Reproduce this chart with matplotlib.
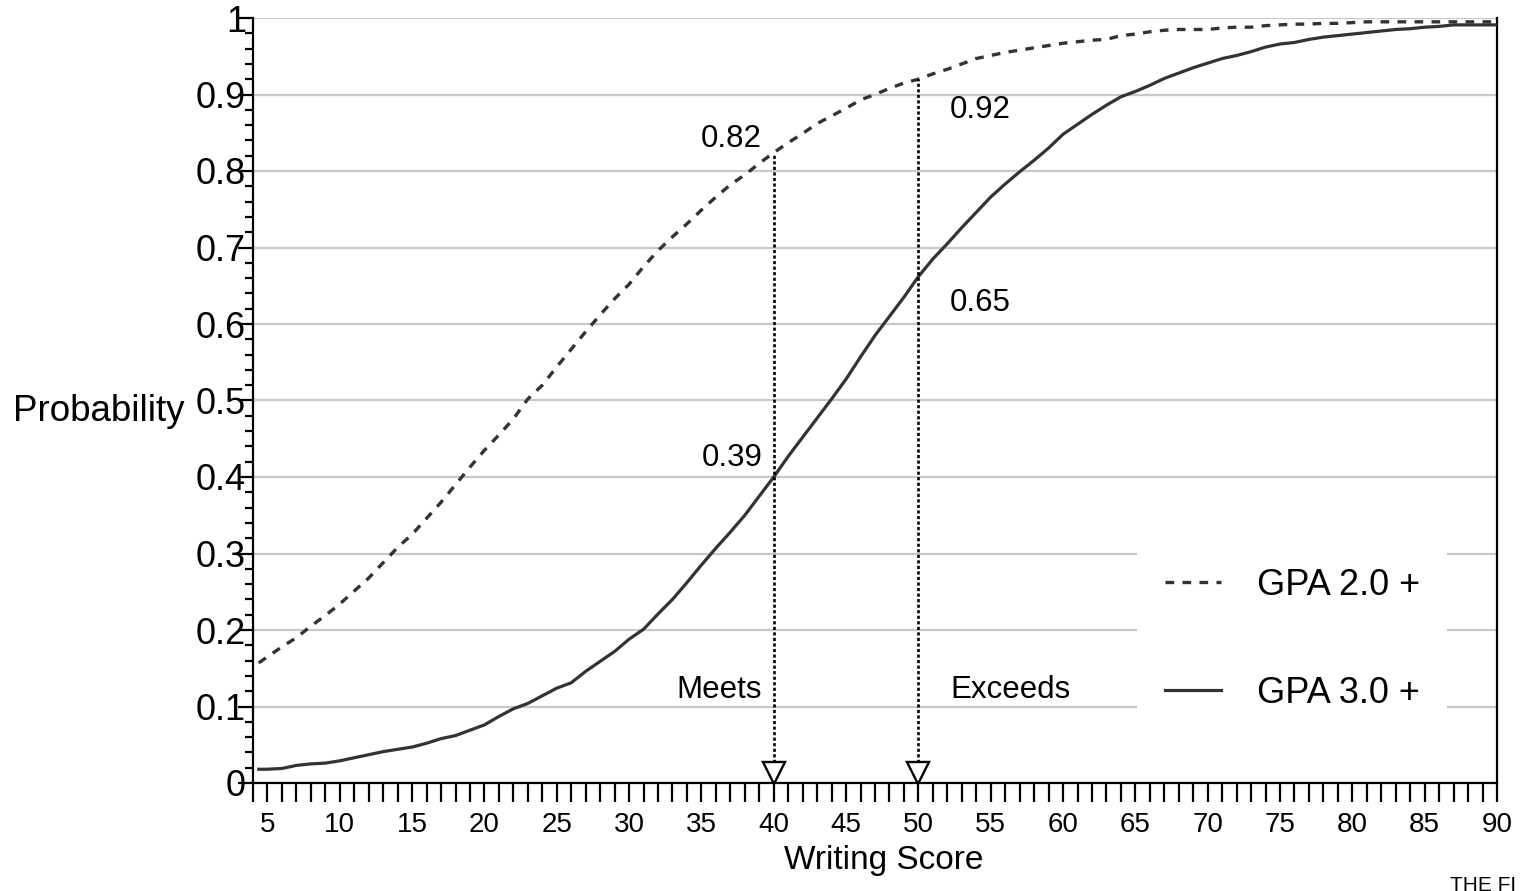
import numpy as np
import matplotlib
matplotlib.use("Agg")
import matplotlib.pyplot as plt
from matplotlib.ticker import MultipleLocator, FuncFormatter

plt.rcParams['font.family'] = ['Liberation Sans', 'DejaVu Sans']

# writing score (x) and probability of reaching each GPA level
scores = [4.4] + list(range(5, 91))
gpa2 = [0.157,
        0.165, 0.178, 0.190, 0.205, 0.219, 0.234, 0.251, 0.268, 0.288, 0.308,
        0.325, 0.346, 0.367, 0.390, 0.413, 0.435, 0.455, 0.476, 0.502, 0.520,
        0.544, 0.567, 0.590, 0.612, 0.633, 0.652, 0.675, 0.696, 0.714, 0.731,
        0.749, 0.766, 0.782, 0.795, 0.810, 0.824, 0.837, 0.849, 0.862, 0.872,
        0.882, 0.893, 0.900, 0.908, 0.915, 0.920, 0.927, 0.933, 0.940, 0.947,
        0.951, 0.955, 0.958, 0.961, 0.964, 0.967, 0.969, 0.971, 0.972, 0.977,
        0.979, 0.982, 0.984, 0.985, 0.985, 0.985, 0.987, 0.988, 0.988, 0.990,
        0.991, 0.992, 0.992, 0.993, 0.993, 0.994, 0.995, 0.995, 0.995, 0.995,
        0.995, 0.995, 0.995, 0.995, 0.995, 0.995]
gpa3 = [0.018,
        0.018, 0.019, 0.023, 0.025, 0.026, 0.029, 0.033, 0.037, 0.041, 0.044,
        0.047, 0.052, 0.058, 0.062, 0.069, 0.076, 0.087, 0.097, 0.104, 0.114,
        0.124, 0.131, 0.146, 0.159, 0.172, 0.188, 0.201, 0.221, 0.240, 0.262,
        0.285, 0.307, 0.328, 0.350, 0.375, 0.400, 0.427, 0.452, 0.477, 0.502,
        0.528, 0.557, 0.585, 0.610, 0.635, 0.662, 0.685, 0.705, 0.726, 0.746,
        0.766, 0.783, 0.799, 0.814, 0.830, 0.848, 0.861, 0.874, 0.886, 0.897,
        0.904, 0.912, 0.921, 0.928, 0.935, 0.941, 0.947, 0.951, 0.956, 0.962,
        0.966, 0.968, 0.972, 0.975, 0.977, 0.979, 0.981, 0.983, 0.985, 0.986,
        0.988, 0.989, 0.991, 0.991, 0.991, 0.991]

cutoffs = [40, 50]
cutoff_names = ["Meets", "Exceeds"]
gpa2_at_cut = ["0.82", "0.92"]
gpa3_at_cut = ["0.39", "0.65"]

line_col = '#333333'

fig = plt.figure(figsize=(15.21, 8.91), dpi=100)
ax = fig.add_axes([253/1521, 108/891, 1244/1521, 765/891])

ax.plot(scores, gpa2, color=line_col, linewidth=2.4, linestyle=(0, (2.6, 2.5)),
        label='GPA 2.0 +', zorder=3)
ax.plot(scores, gpa3, color=line_col, linewidth=2.3, linestyle='-',
        label='GPA 3.0 +', zorder=3)

# dotted drop lines with open arrow heads at the cut scores
for c in cutoffs:
    top = gpa2[scores.index(c)]
    ax.plot([c, c], [0.02, top], color='black', linewidth=1.9,
            linestyle=(0, (1.2, 0.9)), zorder=4)
    ax.plot([c], [0.0135], marker='v', markersize=16, markerfacecolor='white',
            markeredgecolor='black', markeredgewidth=1.7, clip_on=False, zorder=5)

fs_ann = 22.5
ax.text(39.2, 0.842, gpa2_at_cut[0], ha='right', va='center', fontsize=fs_ann)
ax.text(39.2, 0.425, gpa3_at_cut[0], ha='right', va='center', fontsize=fs_ann)
ax.text(39.2, 0.122, cutoff_names[0], ha='right', va='center', fontsize=fs_ann)
ax.text(52.2, 0.88, gpa2_at_cut[1], ha='left', va='center', fontsize=fs_ann)
ax.text(52.2, 0.627, gpa3_at_cut[1], ha='left', va='center', fontsize=fs_ann)
ax.text(52.2, 0.122, cutoff_names[1], ha='left', va='center', fontsize=fs_ann)

ax.set_xlim(4, 90)
ax.set_ylim(0, 1)

ax.xaxis.set_major_locator(MultipleLocator(5))
ax.xaxis.set_minor_locator(MultipleLocator(1))
ax.yaxis.set_major_locator(MultipleLocator(0.1))
ax.yaxis.set_minor_locator(MultipleLocator(0.02))
ax.yaxis.set_major_formatter(FuncFormatter(lambda v, p: f"{v:.1f}".rstrip('0').rstrip('.') if v else "0"))

ax.tick_params(axis='x', which='both', direction='out', length=14, width=1.6,
               labelsize=20, pad=7)
ax.tick_params(axis='y', which='major', direction='out', length=11, width=1.6,
               labelsize=26, pad=-6)
ax.tick_params(axis='y', which='minor', direction='out', length=6, width=1.6)

ax.grid(axis='y', which='major', color='#c8c8c8', linewidth=1.6, zorder=0)
ax.set_axisbelow(True)

for s in ['left', 'bottom', 'right']:
    ax.spines[s].set_linewidth(1.6)
    ax.spines[s].set_color('black')
ax.spines['top'].set_visible(False)

ax.set_xlabel("Writing Score", fontsize=24)
ax.xaxis.set_label_coords(0.507, -0.101)
ax.xaxis.label.set_va('center')
ax.set_ylabel("Probability", fontsize=26.5, rotation=0, ha='right', va='center')
ax.yaxis.set_label_coords(-0.055, 0.485)

leg = ax.legend(loc='upper left', bbox_to_anchor=(0.711, 0.317), borderaxespad=0,
                fontsize=26, handlelength=1.55, handletextpad=1.0,
                labelspacing=2.02, borderpad=0.75, frameon=True, fancybox=False,
                framealpha=1)
leg.get_frame().set_facecolor('white')
leg.get_frame().set_edgecolor('none')

fig.text(1450/1521, 1 - 876/891, "THE FI", fontsize=15, ha='left', va='top')

fig.savefig("out.png", dpi=100)
